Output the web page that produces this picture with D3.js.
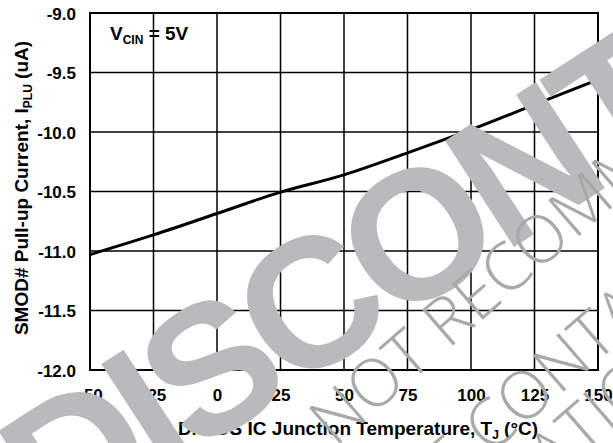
<!DOCTYPE html>
<html>
<head>
<meta charset="utf-8">
<script src="https://cdn.jsdelivr.net/npm/d3@7"></script>
<style>
  html, body { margin: 0; padding: 0; background: #fff; }
  svg { display: block; }
  text { font-family: "Liberation Sans", Arial, sans-serif; }
</style>
</head>
<body>
<svg id="chart" width="613" height="443"></svg>
<script>
// Junction temperature (°C) and SMOD# pull-up current (uA)
const temperatures = [-50, -25, 0, 25, 50, 75, 100, 125, 150];
const pullUpCurrent = [-11.03, -10.865, -10.685, -10.505, -10.36, -10.175, -9.98, -9.77, -9.56];
const xTicks = [-50, -25, 0, 25, 50, 75, 100, 125, 150];
const yTicks = [-12.0, -11.5, -11.0, -10.5, -10.0, -9.5, -9.0];

const svg = d3.select("#chart");
const plot = { left: 90, right: 598, top: 13, bottom: 370 };

const x = d3.scaleLinear().domain([-50, 150]).range([plot.left, plot.right]);
const y = d3.scaleLinear().domain([-12, -9]).range([plot.bottom, plot.top]);

// grid
const g = svg.append("g");
g.selectAll("line.vg").data(xTicks).join("line")
  .attr("x1", d => x(d)).attr("x2", d => x(d))
  .attr("y1", plot.top).attr("y2", plot.bottom)
  .attr("stroke", "#000").attr("stroke-width", 1.5);
g.selectAll("line.hg").data(yTicks).join("line")
  .attr("x1", plot.left).attr("x2", plot.right)
  .attr("y1", d => y(d)).attr("y2", d => y(d))
  .attr("stroke", "#000").attr("stroke-width", 1.5);
g.append("rect")
  .attr("x", plot.left).attr("y", plot.top)
  .attr("width", plot.right - plot.left).attr("height", plot.bottom - plot.top)
  .attr("fill", "none").attr("stroke", "#000").attr("stroke-width", 2);

// tick labels via d3 axes (text only, plain hyphen minus)
const xAxis = d3.axisBottom(x).tickValues(xTicks).tickFormat(d => String(d)).tickSize(0).tickPadding(0);
const xa = svg.append("g").attr("transform", `translate(0,${plot.bottom})`).call(xAxis);
xa.select(".domain").remove();
xa.selectAll("text").attr("y", 31).attr("dy", null)
  .attr("font-size", 17).attr("font-weight", "bold").attr("fill", "#000")
  .style("font-family", "'Liberation Sans', Arial, sans-serif");

const yAxis = d3.axisLeft(y).tickValues(yTicks).tickFormat(d => d.toFixed(1)).tickSize(0).tickPadding(0);
const ya = svg.append("g").attr("transform", `translate(${plot.left},0)`).call(yAxis);
ya.select(".domain").remove();
ya.selectAll("text").attr("x", -14).attr("dy", "0.36em")
  .attr("font-size", 17).attr("font-weight", "bold").attr("fill", "#000")
  .style("font-family", "'Liberation Sans', Arial, sans-serif");

// curve
const line = d3.line().x((d, i) => x(temperatures[i])).y(d => y(d)).curve(d3.curveMonotoneX);
svg.append("path").datum(pullUpCurrent)
  .attr("d", line).attr("fill", "none")
  .attr("stroke", "#000").attr("stroke-width", 3);

// condition label
const cond = svg.append("text").attr("x", 110).attr("y", 40)
  .attr("font-size", 19).attr("font-weight", "bold");
cond.append("tspan").text("V");
cond.append("tspan").attr("font-size", 12).attr("dy", 4).text("CIN");
cond.append("tspan").attr("dy", -4).text(" = 5V");

// axis titles
const yt = svg.append("text")
  .attr("transform", `translate(28,188) rotate(-90)`)
  .attr("text-anchor", "middle").attr("font-size", 19).attr("font-weight", "bold");
yt.append("tspan").text("SMOD#  Pull-up Current, I");
yt.append("tspan").attr("font-size", 12).attr("dy", 4).text("PLU");
yt.append("tspan").attr("dy", -4).text(" (uA)");

const xt = svg.append("text")
  .attr("x", 358).attr("y", 435)
  .attr("text-anchor", "middle").attr("font-size", 19).attr("font-weight", "bold");
xt.append("tspan").text("DrMOS IC Junction Temperature, T");
xt.append("tspan").attr("font-size", 12).attr("dy", 4).text("J");
xt.append("tspan").attr("dy", -4).text(" (°C)");

// status watermark
svg.append("text")
  .attr("transform", "translate(57,544) rotate(-33)")
  .attr("font-size", 184).attr("font-weight", "bold").attr("letter-spacing", -10)
  .attr("fill", "#b9babc")
  .text("DISCONTINUED");

const notice = [
  { text: "NOT RECOMMENDED FOR NEW DESIGNS", tx: 335, ty: 448 },
  { text: "PLEASE CONTACT TI", tx: 310, ty: 612 },
  { text: "FOR MORE INFORMATION", tx: 112, ty: 866 }
];
svg.selectAll("text.notice").data(notice).join("text")
  .attr("class", "notice")
  .attr("transform", d => `translate(${d.tx},${d.ty}) rotate(-41)`)
  .attr("font-size", 66).attr("font-weight", 300).attr("fill", "#a9a9a9")
  .style("font-family", "'Open Sans', 'Liberation Sans', sans-serif")
  .text(d => d.text);
</script>
</body>
</html>
